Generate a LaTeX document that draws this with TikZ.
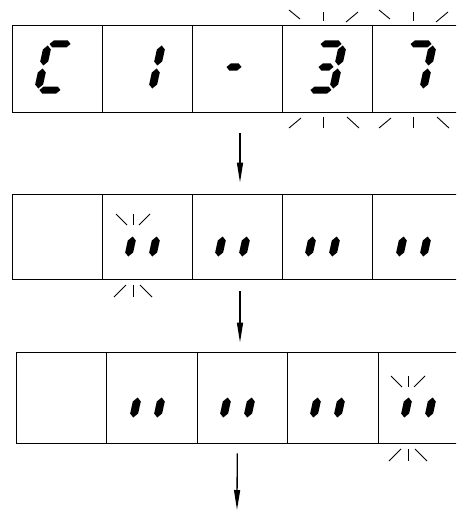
\documentclass[tikz,border=0pt]{standalone}
\usetikzlibrary{arrows.meta}
\newcommand\lcdsega{\fill (-10.5,-23) -- (-7,-26.5) -- (7,-26.5) -- (10.5,-23) -- (7,-19.5) -- (-7,-19.5) -- cycle;}
\newcommand\lcdsegg{\fill (-7.5,0) -- (-4,-3.5) -- (4,-3.5) -- (7.5,0) -- (4,3.5) -- (-4,3.5) -- cycle;}
\newcommand\lcdsegd{\fill (-10.5,23) -- (-7,19.5) -- (7,19.5) -- (10.5,23) -- (7,26.5) -- (-7,26.5) -- cycle;}
\newcommand\lcdvseg[3]{\fill (#1,#2+1.5) -- (#1+4,#2+5.5) -- (#1+4,#3-5.5) -- (#1,#3-1.5) -- (#1-4,#3-5.5) -- (#1-4,#2+5.5) -- cycle;}
\newcommand\lcdsegf{\lcdvseg{-12}{-23}{0}}
\newcommand\lcdsegb{\lcdvseg{12}{-23}{0}}
\newcommand\lcdsege{\lcdvseg{-12}{0}{23}}
\newcommand\lcdsegc{\lcdvseg{12}{0}{23}}
\newcommand\lcddigit[3]{\begin{scope}[shift={(#1,#2)},xslant=0.22]
  \foreach \s in {#3} {\csname lcdseg\s\endcsname}
\end{scope}}
\newcommand\flashbig[3]{%
  \draw[flash] (#1-34,#2-6) -- (#1-23,#2+3);
  \draw[flash] (#1,#2-4) -- (#1,#2+5);
  \draw[flash] (#1+23,#2+6) -- (#1+35,#2-4);
  \draw[flash] (#1-34,#3+6) -- (#1-22,#3-4);
  \draw[flash] (#1,#3-5) -- (#1,#3+6);
  \draw[flash] (#1+24,#3-5) -- (#1+36,#3+6);}
\newcommand\flashsmall[3]{%
  \draw[flash] (#1-17,#2-6) -- (#1-6,#2+5);
  \draw[flash] (#1,#2-6) -- (#1,#2+5);
  \draw[flash] (#1+6,#2+5) -- (#1+17,#2-6);
  \draw[flash] (#1-19,#3+6) -- (#1-7,#3-6);
  \draw[flash] (#1,#3-6) -- (#1,#3+6);
  \draw[flash] (#1+7,#3-6) -- (#1+19,#3+6);}
\begin{document}
\begin{tikzpicture}[x=1pt,y=-1pt,
  cell/.style={draw,line width=0.9pt,inner sep=0pt,minimum width=90.2pt},
  flash/.style={line width=0.9pt},
  arr/.style={line width=1.3pt,-{Triangle[length=20pt,width=6pt]}}]
\clip (0,0) rectangle (456,511);
\fill[white] (0,0) rectangle (456,511);
% row 1
\foreach \i in {1,...,5}
  \node[cell,minimum height=87pt] (r1c\i) at ({12+45.1+90.2*(\i-1)},68.5) {};
% row 2
\foreach \i in {1,...,5}
  \node[cell,minimum height=85pt] (r2c\i) at ({12+45.1+90.2*(\i-1)},236.5) {};
% row 3
\foreach \i in {1,...,5}
  \node[cell,minimum height=91pt,minimum width=90.5pt] (r3c\i) at ({16+45.25+90.5*(\i-1)},397.5) {};
% digits row 1
\lcddigit{55}{67}{a,f,e,d}
\lcddigit{145}{67}{b,c}
\lcddigit{234}{67}{g}
\lcddigit{326}{67}{a,b,g,c,d}
\lcddigit{416}{67}{a,b,c}
% row 2
\foreach \cx in {145,235,325,416} {\lcddigit{\cx}{235}{e,c}}
% row 3
\foreach \cx in {150,240,330,421} {\lcddigit{\cx}{396}{e,c}}
% flashes
\flashbig{323}{16}{122}
\flashbig{413}{16}{122}
\flashsmall{133}{220}{291}
\flashsmall{408}{382}{455}
% arrows
\coordinate (endarrow) at (237,510);
\draw[arr] ([xshift=2.5pt,yshift=-21pt]r1c3.south) -- ([xshift=2.5pt,yshift=11pt]r2c3.north);
\draw[arr] ([xshift=2.5pt,yshift=-12pt]r2c3.south) -- ([xshift=-2.25pt,yshift=9pt]r3c3.north);
\draw[arr] ([xshift=-5pt,yshift=-10pt]r3c3.south) -- (endarrow);
\end{tikzpicture}
\end{document}
